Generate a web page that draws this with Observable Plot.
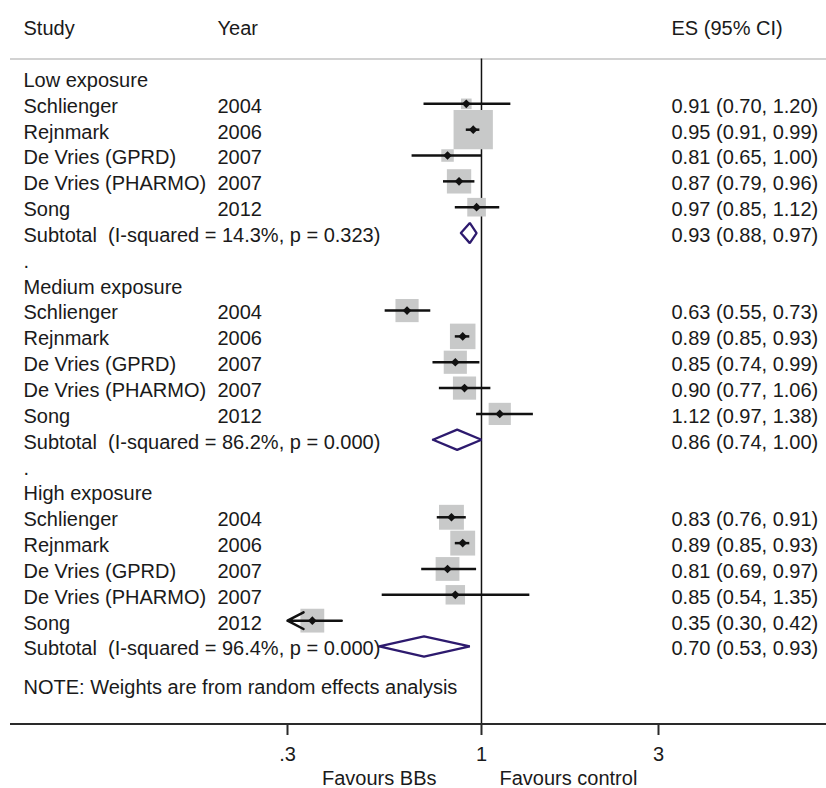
<!DOCTYPE html>
<html><head><meta charset="utf-8">
<script src="https://cdn.jsdelivr.net/npm/d3@7"></script>
<script src="https://cdn.jsdelivr.net/npm/@observablehq/plot@0.6"></script>
<style>html,body{margin:0;padding:0;background:#fff}</style>
</head><body><div id="chart"></div>
<script>
// ---- data ----
const groups = ["Low exposure", "Medium exposure", "High exposure"];
const studies = ["Schlienger", "Rejnmark", "De Vries (GPRD)", "De Vries (PHARMO)", "Song"];
const years = ["2004", "2006", "2007", "2007", "2012"];

const lowES  = [0.91, 0.95, 0.81, 0.87, 0.97];
const lowLo  = [0.70, 0.91, 0.65, 0.79, 0.85];
const lowHi  = [1.20, 0.99, 1.00, 0.96, 1.12];
const lowW   = [4.1, 56.1, 5.7, 21.5, 12.6];

const medES  = [0.63, 0.89, 0.85, 0.90, 1.12];
const medLo  = [0.55, 0.85, 0.74, 0.77, 0.97];
const medHi  = [0.73, 0.93, 0.99, 1.06, 1.38];
const medW   = [19.5, 23.7, 19.5, 19.5, 17.9];

const highES = [0.83, 0.89, 0.81, 0.85, 0.35];
const highLo = [0.76, 0.85, 0.69, 0.54, 0.30];
const highHi = [0.91, 0.93, 0.97, 1.35, 0.42];
const highW  = [22.5, 22.5, 20.6, 13.8, 20.6];

const subI2 = ["14.3%", "86.2%", "96.4%"];
const subP  = ["0.323", "0.000", "0.000"];
const subES = [0.93, 0.86, 0.70];
const subLo = [0.88, 0.74, 0.53];
const subHi = [0.97, 1.00, 0.93];

const xTicks = [0.3, 1, 3];
const xTickLabels = [".3", "1", "3"];
const headers = ["Study", "Year", "ES (95% CI)"];
const favours = ["Favours BBs", "Favours control"];
const note = "NOTE: Weights are from random effects analysis";

// ---- build tables ----
const esArr = [lowES, medES, highES], loArr = [lowLo, medLo, highLo], hiArr = [lowHi, medHi, highHi], wArr = [lowW, medW, highW];
const xMin = xTicks[0];
const fmt = d3.format(".2f");
const studyRows = [], groupRows = [], subRows = [], dotRows = [];
groups.forEach((g, gi) => {
  const base = gi * 8;
  groupRows.push({row: base, label: g});
  studies.forEach((s, si) => {
    studyRows.push({row: base + 1 + si, name: s, year: years[si],
      es: esArr[gi][si], lo: loArr[gi][si], hi: hiArr[gi][si], w: wArr[gi][si]});
  });
  subRows.push({row: base + 6, g: gi, es: subES[gi], lo: subLo[gi], hi: subHi[gi],
    label: `Subtotal\u00a0 (I-squared = ${subI2[gi]}, p = ${subP[gi]})`});
  if (gi < groups.length - 1) dotRows.push({row: base + 7, label: "."});
});
const esText = d => `${fmt(d.es)} (${fmt(d.lo)}, ${fmt(d.hi)})`;
const h = 0.39;
const diamondPts = subRows.flatMap(d => [
  {g: d.g, x: d.lo, y: d.row}, {g: d.g, x: d.es, y: d.row - h},
  {g: d.g, x: d.hi, y: d.row}, {g: d.g, x: d.es, y: d.row + h},
  {g: d.g, x: d.lo, y: d.row}
]);
const ciFull = studyRows.filter(d => d.lo > xMin);
const ciCut = studyRows.filter(d => d.lo <= xMin);

const headerRow = -2, lineRow = -0.74, axisRow = 25, noteRow = 23.5, favRow = 27;
const txt = "#1a1a1a";
const dy = 2.5;

const chart = Plot.plot({
  width: 826,
  height: 788,
  marginLeft: 10,
  marginRight: 0,
  marginTop: 0,
  marginBottom: 65,
  style: {font: "20px 'Liberation Sans', Arial, sans-serif", background: "#fff"},
  x: {type: "log", domain: [0.3, 3], range: [287, 658]},
  y: {type: "linear", domain: [0, 1], range: [77.5, 77.5 + 25.84], axis: null},
  r: {type: "sqrt", domain: [0, 100], range: [0, 29.6]},
  marks: [
    Plot.ruleY([lineRow], {stroke: "#d2d2d2", strokeWidth: 2}),
    Plot.ruleX([1], {y1: lineRow, y2: axisRow, stroke: "#111", strokeWidth: 1.5}),
    Plot.dot(studyRows, {x: "es", y: "row", r: "w", symbol: "square", fill: "#c8c9c9", stroke: "none"}),
    Plot.ruleY(ciFull, {y: "row", x1: "lo", x2: "hi", stroke: "#111", strokeWidth: 2.5}),
    Plot.arrow(ciCut, {x1: "hi", y1: "row", x2: () => xMin, y2: "row", stroke: "#111", strokeWidth: 2.5, headLength: 12, headAngle: 55}),
    Plot.dot(studyRows, {x: "es", y: "row", symbol: "diamond2", r: 3.9, fill: "#111", stroke: "none"}),
    Plot.line(diamondPts, {x: "x", y: "y", z: "g", stroke: "#2d1a6e", strokeWidth: 2.3, strokeLinejoin: "miter", curve: "linear"}),
    // axis
    Plot.ruleY([axisRow], {stroke: "#2a2a2a", strokeWidth: 2}),
    Plot.axisX(xTicks, {anchor: "bottom", tickSize: 12, tickPadding: 11, strokeWidth: 2, stroke: "#2a2a2a", fill: txt,
      tickFormat: d => xTickLabels[xTicks.indexOf(d)], fontSize: 20}),
    // text columns
    Plot.text([headers[0]], {y: [headerRow], text: d => d, frameAnchor: "left", textAnchor: "start", dx: 13, dy, fill: txt}),
    Plot.text([headers[1]], {y: [headerRow], text: d => d, frameAnchor: "left", textAnchor: "start", dx: 207, dy, fill: txt}),
    Plot.text([headers[2]], {y: [headerRow], text: d => d, frameAnchor: "left", textAnchor: "start", dx: 661, dy, fill: txt}),
    Plot.text(groupRows, {y: "row", text: "label", frameAnchor: "left", textAnchor: "start", dx: 13, dy, fill: txt}),
    Plot.text(dotRows, {y: "row", text: "label", frameAnchor: "left", textAnchor: "start", dx: 13, dy, fill: txt}),
    Plot.text(studyRows, {y: "row", text: "name", frameAnchor: "left", textAnchor: "start", dx: 13, dy, fill: txt}),
    Plot.text(studyRows, {y: "row", text: "year", frameAnchor: "left", textAnchor: "start", dx: 207, dy, fill: txt}),
    Plot.text(studyRows, {y: "row", text: esText, frameAnchor: "left", textAnchor: "start", dx: 661, dy, fill: txt}),
    Plot.text(subRows, {y: "row", text: "label", frameAnchor: "left", textAnchor: "start", dx: 13, dy, fill: txt}),
    Plot.text(subRows, {y: "row", text: esText, frameAnchor: "left", textAnchor: "start", dx: 661, dy, fill: txt}),
    Plot.text([note], {y: [noteRow], text: d => d, frameAnchor: "left", textAnchor: "start", dx: 13, dy, fill: txt}),
    Plot.text([favours[0]], {x: [1], y: [favRow], text: d => d, textAnchor: "end", dx: -45, dy, fill: txt}),
    Plot.text([favours[1]], {x: [1], y: [favRow], text: d => d, textAnchor: "start", dx: 18, dy, fill: txt})
  ]
});
document.getElementById("chart").appendChild(chart);
</script>
</body></html>
